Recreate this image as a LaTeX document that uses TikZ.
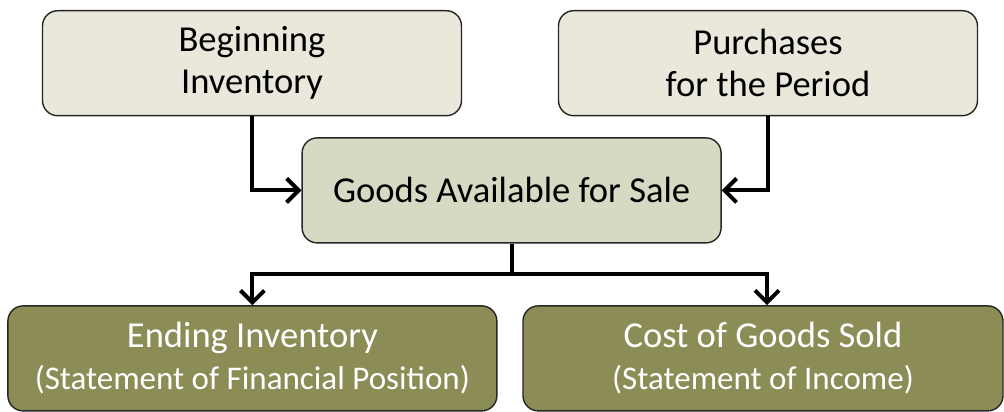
\documentclass[tikz,border=0pt]{standalone}
\usepackage{fontspec}
\setmainfont{Carlito}
\usetikzlibrary{arrows.meta}
\definecolor{toplight}{RGB}{233,232,219}
\definecolor{midlight}{RGB}{216,217,195}
\definecolor{olivedark}{RGB}{139,140,86}
\newcommand{\subline}[1]{{\fontsize{23.5}{28}\selectfont #1}}

\begin{document}
\begin{tikzpicture}[
        box/.style={draw=black!85, line width=1pt, rounded corners=0.38cm,
            minimum height=2.625cm, align=center,
            font=\fontsize{26}{30}\selectfont},
        flow/.style={line width=2.8pt, -{Straight Barb[length=3mm, width=6mm, line width=2.8pt]}}
    ]
                \useasboundingbox (0,0) rectangle (25.1,10.3);

                \node[box, fill=toplight, minimum width=10.475cm] (begin) at (6.3,8.72) {Beginning\\Inventory};
                \node[box, fill=toplight, minimum width=10.475cm] (purch) at (19.2,8.72) {Purchases\\for the Period};
                \node[box, fill=midlight, minimum width=10.475cm] (avail) at (12.79,5.54) {Goods Available for Sale};

                \node[box, fill=olivedark, text=white, minimum width=12.225cm] (ending) at (6.31,1.34) {Ending Inventory\\\subline{(Statement of Financial Position)}};
                \node[box, fill=olivedark, text=white, minimum width=12cm] (cogs) at (19.075,1.34) {Cost of Goods Sold\\\subline{(Statement of Income)}};

                \draw[flow] (begin.south) |- (avail.west);
                \draw[flow] (purch.south) |- (avail.east);

                \coordinate (split) at (12.79,3.45);
                \draw[line width=2.8pt] (avail.south) -- (split);
                \draw[flow] (split) -| (ending.north);
                \draw[flow] (split) -| ([xshift=0.1cm]cogs.north);
            \end{tikzpicture}
\end{document}
